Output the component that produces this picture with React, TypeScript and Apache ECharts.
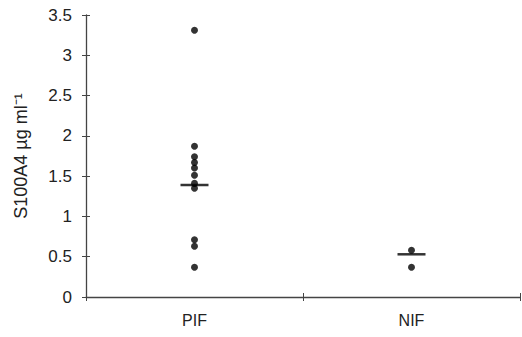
import React, { useEffect, useRef } from "react";
import * as echarts from "echarts";

const categories = ["PIF", "NIF"];
const pifValues = [3.31, 1.87, 1.74, 1.67, 1.6, 1.51, 1.41, 1.35, 0.71, 0.63, 0.37];
const nifValues = [0.58, 0.37];
const medians = [1.39, 0.53];
const yTicks = [0, 0.5, 1, 1.5, 2, 2.5, 3, 3.5];

export default function App() {
  const ref = useRef<HTMLDivElement>(null);
  useEffect(() => {
    if (!ref.current) return;
    const chart = echarts.init(ref.current, undefined, { renderer: "svg" });
    const axisColor = "#444";
    const font = "Liberation Sans, Arial, sans-serif";
    const pts: [string, number][] = [
      ...pifValues.map((v) => [categories[0], v] as [string, number]),
      ...nifValues.map((v) => [categories[1], v] as [string, number]),
    ];
    chart.setOption({
      animation: false,
      backgroundColor: "#fff",
      grid: { left: 86, right: 2, top: 15, bottom: 40, containLabel: false },
      xAxis: [
        {
          type: "category",
          data: categories,
          boundaryGap: true,
          axisLine: { lineStyle: { color: axisColor, width: 1.3 } },
          axisTick: { show: true, length: 4, lineStyle: { color: axisColor } },
          axisLabel: { color: "#222", fontSize: 16, fontFamily: font, margin: 15 },
          splitLine: { show: false },
        },
        {
          type: "category",
          data: categories,
          position: "bottom",
          boundaryGap: true,
          axisLine: { show: false },
          axisTick: { show: true, inside: true, length: 4, lineStyle: { color: axisColor } },
          axisLabel: { show: false },
          splitLine: { show: false },
        },
      ],
      yAxis: [
        {
          type: "value",
          min: yTicks[0],
          max: yTicks[yTicks.length - 1],
          interval: 0.5,
          name: "S100A4 µg ml\u207B\u00B9",
          nameLocation: "middle",
          nameGap: 56,
          nameTextStyle: { color: "#222", fontSize: 18, fontFamily: font },
          axisLine: { show: true, lineStyle: { color: axisColor, width: 1.3 } },
          axisTick: { show: true, length: 4, lineStyle: { color: axisColor } },
          axisLabel: { color: "#222", fontSize: 17, fontFamily: font, margin: 14 },
          splitLine: { show: false },
        },
        {
          type: "value",
          position: "left",
          min: yTicks[0],
          max: yTicks[yTicks.length - 1],
          interval: 0.5,
          axisLine: { show: false },
          axisTick: { show: true, inside: true, length: 4, lineStyle: { color: axisColor } },
          axisLabel: { show: false },
          splitLine: { show: false },
        },
      ],
      series: [
        {
          type: "scatter",
          data: pts,
          symbol: "circle",
          symbolSize: 7,
          itemStyle: { color: "#000" },
          z: 3,
        },
        {
          type: "scatter",
          data: categories.map((c, i) => [c, medians[i]]),
          symbol: "rect",
          symbolSize: [28, 2.5],
          itemStyle: { color: "#000" },
          z: 4,
        },
      ],
    });
    return () => chart.dispose();
  }, []);
  return <div ref={ref} style={{ width: 522, height: 337, position: "absolute", left: 0, top: 0 }} />;
}
